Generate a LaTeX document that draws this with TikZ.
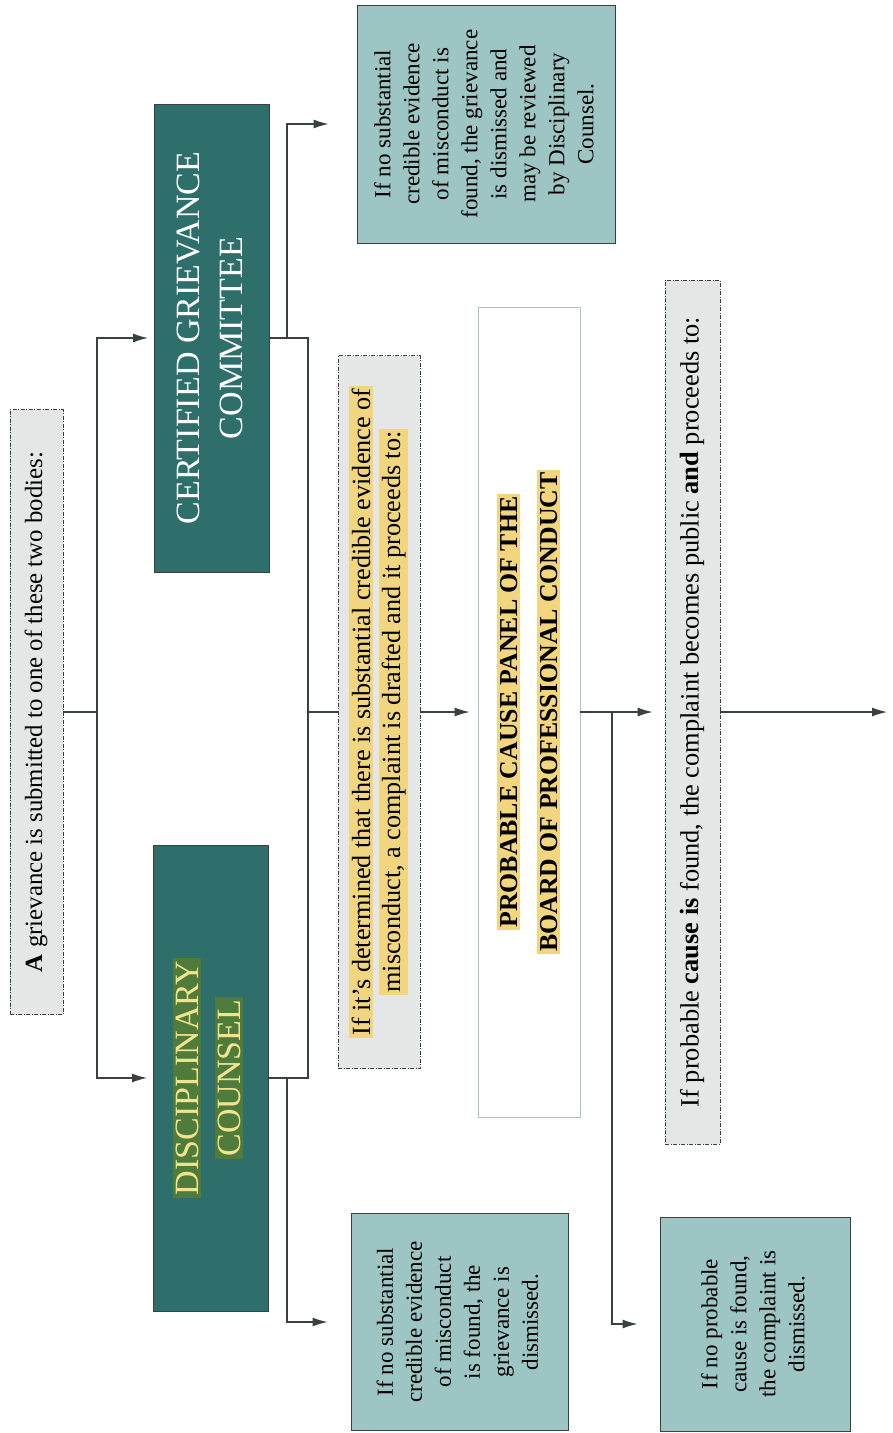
\documentclass[tikz,border=0pt]{standalone}
\usepackage{fontspec}
\setmainfont{Liberation Serif}
\usepackage{graphicx}
\usepackage{xcolor}
\usetikzlibrary{positioning,arrows.meta}

\definecolor{darkteal}{HTML}{2E6F6C}
\definecolor{lightteal}{HTML}{9DC5C3}
\definecolor{paleg}{HTML}{E4E7E6}
\definecolor{hlyellow}{HTML}{F1D67F}
\definecolor{hlgreen}{HTML}{4F7C3A}
\definecolor{dcyellow}{HTML}{F2E38F}
\definecolor{edge}{HTML}{3A3F3F}
\definecolor{panelline}{HTML}{A9C6C6}

% text turned to read bottom to top
\newcommand{\vlines}[1]{\rotatebox{90}{\begin{tabular}{@{}c@{}}#1\end{tabular}}}
\newcommand{\hly}[1]{{\setlength{\fboxsep}{2.5pt}\colorbox{hlyellow}{#1}}}
\newcommand{\hlg}[1]{{\setlength{\fboxsep}{2.5pt}\colorbox{hlgreen}{#1}}}

\tikzset{
  body/.style={draw=edge, fill=darkteal, line width=1pt, inner sep=0pt},
  outcome/.style={draw=edge, fill=lightteal, line width=1pt, inner sep=0pt,
    font=\fontsize{23}{29}\selectfont},
  notebox/.style={draw=edge, fill=paleg, line width=0.8pt, inner sep=0pt,
    dash pattern=on 4pt off 1.5pt on 1pt off 1.5pt},
  panel/.style={draw=panelline, fill=white, line width=0.8pt, inner sep=0pt},
  link/.style={draw=edge, line width=1.2pt},
  arr/.style={link, -{Latex[length=15pt,width=9pt]}},
}

\begin{document}
\begin{tikzpicture}[x=1pt, y=1pt]
    \useasboundingbox (0,0) rectangle (892,-1433);

    \node[notebox, minimum width=53, minimum height=605,
          font=\fontsize{24.8}{28}\selectfont] (grv) at (36.5,-712)
          {\vlines{\textbf{A} grievance is submitted to one of these two bodies:}};

    \node[body, minimum width=115, minimum height=468,
          font=\fontsize{34}{43}\selectfont, text=white] (cgc) at (212,-338)
          {\vlines{CERTIFIED GRIEVANCE\\COMMITTEE}};
    \node[body, minimum width=115, minimum height=466,
          font=\fontsize{34}{42}\selectfont, text=dcyellow] (dc) at (211,-1078)
          {\vlines{\hlg{DISCIPLINARY}\\\hlg{COUNSEL}}};

    \node[outcome, minimum width=258, minimum height=238] (nsc) at (486,-124)
          {\vlines{If no substantial\\credible evidence\\of misconduct is\\found, the grievance\\is dismissed and\\may be reviewed\\by Disciplinary\\Counsel.}};
    \node[outcome, minimum width=217, minimum height=217] (nsd) at (459.5,-1322)
          {\vlines{If no substantial\\credible evidence\\of misconduct\\is found, the\\grievance is\\dismissed.}};

    \node[notebox, minimum width=82, minimum height=713,
          font=\fontsize{26.2}{30}\selectfont] (det) at (379,-712)
          {\vlines{\hly{If it's determined that there is substantial credible evidence of}\\\hly{misconduct, a complaint is drafted and it proceeds to:}}};

    \node[panel, minimum width=102, minimum height=810,
          font=\bfseries\fontsize{25.8}{40}\selectfont] (pcp) at (529,-712)
          {\vlines{\hly{PROBABLE CAUSE PANEL OF THE}\\\hly{BOARD OF PROFESSIONAL CONDUCT}}};

    \node[notebox, minimum width=55, minimum height=864,
          font=\fontsize{26.4}{30}\selectfont] (pub) at (692.5,-712)
          {\vlines{If probable \textbf{cause is} found, the complaint becomes public \textbf{and} proceeds to:}};
    \node[outcome, minimum width=190, minimum height=214] (npc) at (755,-1324)
          {\vlines{If no probable\\cause is found,\\the complaint is\\dismissed.}};

    \coordinate (split) at (97,-712);
    \coordinate (join) at (308,-712);
    \coordinate (cgcb) at (287,-338);
    \coordinate (dcb) at (287,-1078);
    \coordinate (pcpb) at (612,-712);
    \coordinate (out) at (887,-712);

    \draw[link] (grv.east) -- (split);
    \draw[arr, shorten >=6pt] (split) |- (cgc.west);
    \draw[arr, shorten >=6pt] (split) |- (dc.west);
    \draw[link] (cgc.east) -| (join);
    \draw[link] (dc.east) -| (join);
    \draw[arr, shorten >=28pt] (cgcb) |- (nsc.west);
    \draw[arr, shorten >=23pt] (dcb) |- (nsd.west);
    \draw[link] (join) -- (det.west);
    \draw[arr, shorten >=8pt] (det.east) -- (pcp.west);
    \draw[arr, shorten >=12pt] (pcp.east) -- (pub.west);
    \draw[arr, shorten >=22pt] (pcpb) |- (npc.west);
    \draw[arr] (pub.east) -- (out);
\end{tikzpicture}
\end{document}
